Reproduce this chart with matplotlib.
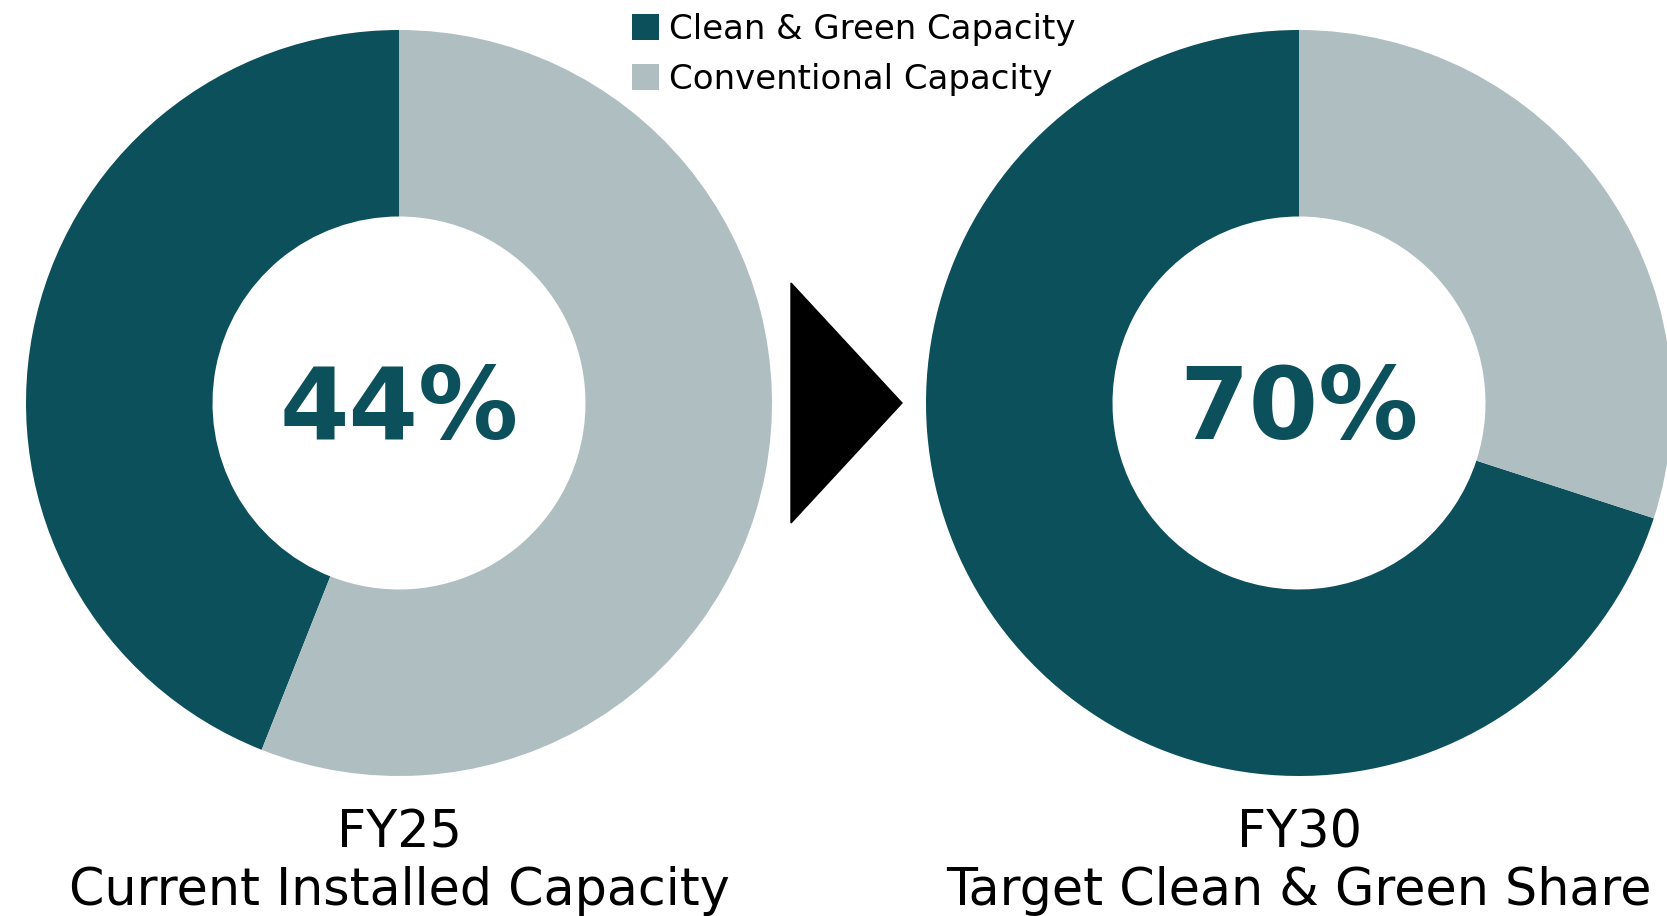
import matplotlib.pyplot as plt
from matplotlib.patches import Polygon

plt.rcParams['font.family'] = ['DejaVu Sans']

labels = ['Clean & Green Capacity', 'Conventional Capacity']
fy25 = [44, 56]
fy30 = [70, 30]
center_labels = ['44%', '70%']
years = ['FY25', 'FY30']
subtitles = ['Current Installed Capacity', 'Target Clean & Green Share']
colors = ['#0B505A', '#AFBEC1']

W, H = 1667, 916
fig = plt.figure(figsize=(W / 100, H / 100), dpi=100)

R = 373  # outer radius in px
centers = [(399, 403), (1299, 403)]

wedges_all = []
for (cx, cy), vals, ctext, yr, sub in zip(centers, [fy25, fy30], center_labels, years, subtitles):
    ax = fig.add_axes([(cx - R) / W, (H - cy - R) / H, 2 * R / W, 2 * R / H])
    wedges, _ = ax.pie(vals, colors=colors, startangle=90, counterclock=True,
                       radius=1, wedgeprops=dict(width=0.5, linewidth=0))
    wedges_all.append(wedges)
    ax.set_xlim(-1, 1)
    ax.set_ylim(-1, 1)
    ax.set_aspect('equal')
    ax.axis('off')
    fig.text(cx / W, 1 - 439 / H, ctext, ha='center', va='baseline',
             fontsize=72, fontweight='bold', color=colors[0])
    fig.text(cx / W, 1 - 847 / H, yr, ha='center', va='baseline',
             fontsize=36.5, color='black')
    fig.text(cx / W, 1 - 905 / H, sub, ha='center', va='baseline',
             fontsize=36.5, color='black')

# arrow between the two donuts
tri = Polygon([(791 / W, 1 - 283 / H), (791 / W, 1 - 523 / H), (902 / W, 1 - 403 / H)],
              closed=True, transform=fig.transFigure, color='black')
fig.patches.append(tri)

fig.legend(wedges_all[0], labels, loc='upper left',
           bbox_to_anchor=(632 / W, 1 - 13 / H), frameon=False,
           fontsize=24.5, handlelength=0.8, handleheight=0.8,
           handletextpad=0.3, labelspacing=0.5, borderpad=0, borderaxespad=0)

fig.savefig('out.png', dpi=100, facecolor='white')
